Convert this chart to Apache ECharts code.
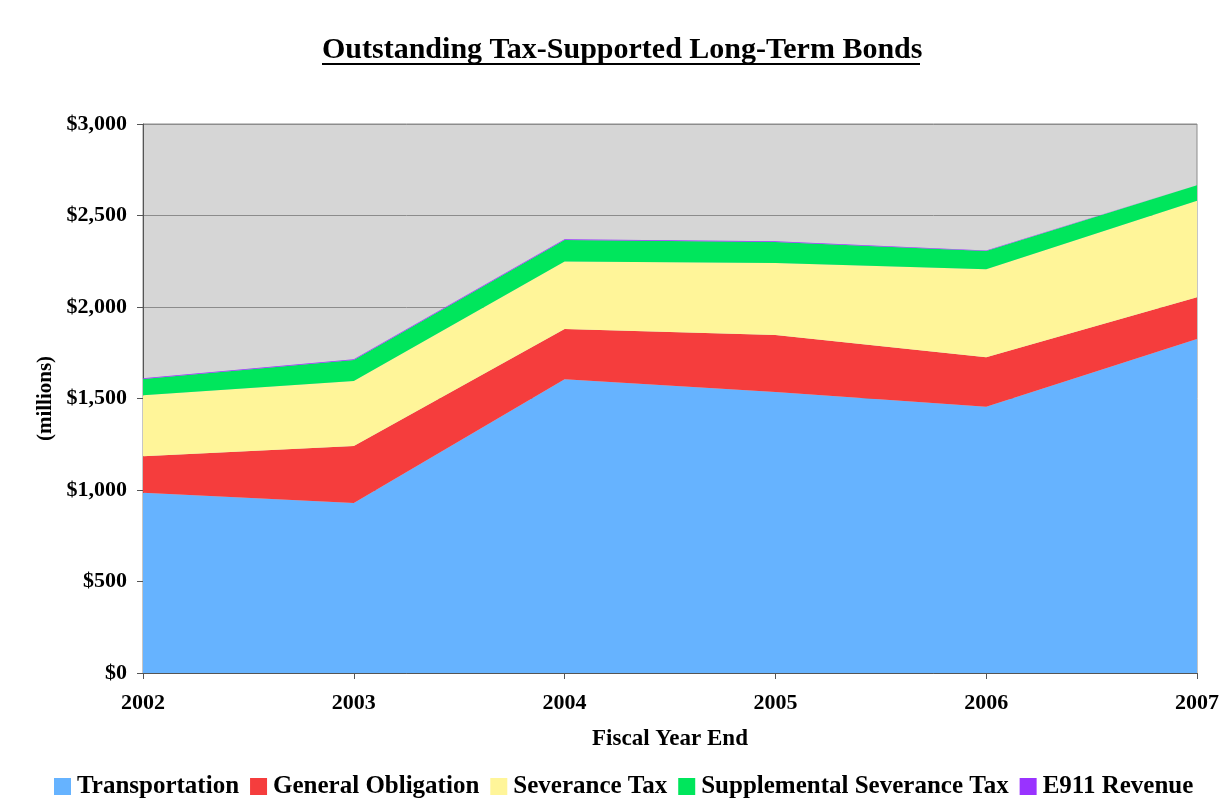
<!DOCTYPE html>
<html>
<head>
<meta charset="utf-8">
<title>Outstanding Tax-Supported Long-Term Bonds</title>
<script src="https://cdn.jsdelivr.net/npm/echarts@6/dist/echarts.min.js"></script>
<style>
  html, body { margin: 0; padding: 0; background: #fff; }
  #chart { width: 1228px; height: 804px; }
</style>
</head>
<body>
<div id="chart"></div>
<script>
// fiscal years (x axis)
const years = ["2002", "2003", "2004", "2005", "2006", "2007"];

// outstanding bonds, $ millions
const transportation = [985, 929, 1605, 1536, 1455, 1825];
const generalObligation = [200, 311, 275, 311, 270, 228];
const severanceTax = [333, 356, 368, 393, 481, 528];
const supplementalSeverance = [88, 114, 118, 115, 100, 84];
const e911Revenue = [4, 5, 4, 4, 3, 2];

const seriesNames = ["Transportation", "General Obligation", "Severance Tax", "Supplemental Severance Tax", "E911 Revenue"];
const seriesData = [transportation, generalObligation, severanceTax, supplementalSeverance, e911Revenue];
const colors = ["#66B3FF", "#F53D3D", "#FFF599", "#00E65C", "#9933FF"];

const font = "Liberation Serif";

const chart = echarts.init(document.getElementById("chart"));

const option = {
  animation: false,
  color: colors,
  title: {
    text: "Outstanding Tax-Supported Long-Term Bonds",
    left: 317,
    top: 30,
    textStyle: { fontFamily: font, fontSize: 30, fontWeight: "bold", color: "#000" }
  },
  // underline of the title
  graphic: [
    {
      type: "line",
      shape: { x1: 322, y1: 64, x2: 920, y2: 64 },
      style: { stroke: "#000", lineWidth: 2 }
    }
  ],
  legend: {
    bottom: 0,
    left: 49,
    itemWidth: 17,
    itemHeight: 17,
    itemGap: 11,
    icon: "rect",
    textStyle: { fontFamily: font, fontSize: 25, fontWeight: "bold", color: "#000", padding: [0, 0, 0, 1] },
    data: seriesNames
  },
  grid: {
    left: 143,
    right: 31,
    top: 124,
    bottom: 131,
    show: true,
    backgroundColor: "#D6D6D6",
    borderColor: "#8C8C8C",
    borderWidth: 1
  },
  xAxis: {
    type: "category",
    data: years,
    boundaryGap: false,
    name: "Fiscal Year End",
    nameLocation: "middle",
    nameGap: 55,
    nameTextStyle: { fontFamily: font, fontSize: 23, fontWeight: "bold", color: "#000" },
    axisLine: { lineStyle: { color: "#555", width: 1 } },
    axisTick: { show: true, length: 6, lineStyle: { color: "#555" } },
    axisLabel: { fontFamily: font, fontSize: 22, fontWeight: "bold", color: "#000", margin: 19 },
    splitLine: { show: false }
  },
  yAxis: {
    type: "value",
    min: 0,
    max: 3000,
    interval: 500,
    name: "(millions)",
    nameLocation: "middle",
    nameGap: 87,
    nameRotate: 90,
    nameTextStyle: { fontFamily: font, fontSize: 21, fontWeight: "bold", color: "#000" },
    axisLine: { show: true, lineStyle: { color: "#555", width: 1 } },
    axisTick: { show: true, length: 6, lineStyle: { color: "#555" } },
    axisLabel: {
      fontFamily: font,
      fontSize: 22,
      fontWeight: "bold",
      color: "#000",
      margin: 16,
      formatter: v => "$" + v.toLocaleString("en-US")
    },
    splitLine: { show: true, lineStyle: { color: "#8C8C8C", width: 1 } }
  },
  series: seriesNames.map((name, i) => ({
    name,
    type: "line",
    stack: "total",
    data: seriesData[i],
    symbol: "none",
    lineStyle: { width: 0 },
    areaStyle: { color: colors[i], opacity: 1 },
    itemStyle: { color: colors[i] },
    emphasis: { disabled: true }
  }))
};

chart.setOption(option);
</script>
</body>
</html>
